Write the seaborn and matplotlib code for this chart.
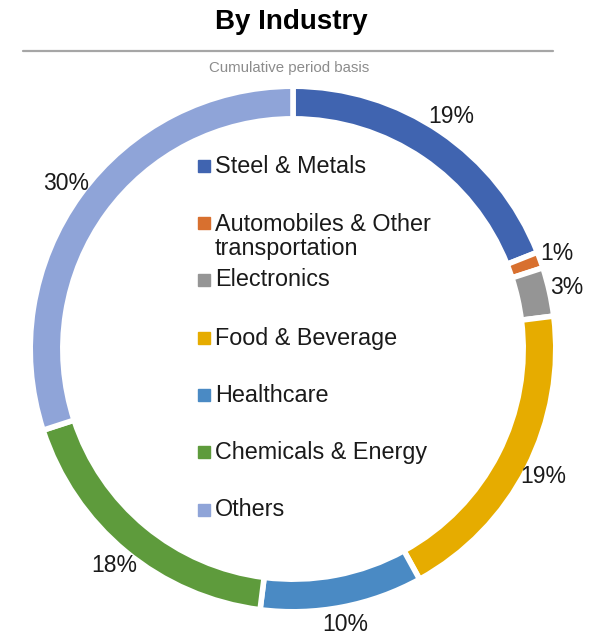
import matplotlib
matplotlib.use("Agg")
import matplotlib.pyplot as plt
from matplotlib.lines import Line2D
import seaborn as sns

# Industry breakdown (share of total, %)
industries = [
    "Steel & Metals",
    "Automobiles & Other\ntransportation",
    "Electronics",
    "Food & Beverage",
    "Healthcare",
    "Chemicals & Energy",
    "Others",
]
shares = [19, 1, 3, 19, 10, 18, 30]
colors = ["#4064B0", "#D8702F", "#959595", "#E6AC00", "#4A8AC4", "#5E9B3C", "#8FA4D8"]

title = "By Industry"
subtitle = "Cumulative period basis"

sns.set_theme(style="white")
plt.rcParams["font.family"] = ["Liberation Sans", "DejaVu Sans"]

W, H = 593, 636
fig = plt.figure(figsize=(W / 100, H / 100), dpi=100)

# donut axes: centre (293, 349) px, outer radius 260 px
cx, cy, R = 293, 349, 260
ax = fig.add_axes([(cx - R) / W, (H - cy - R) / H, 2 * R / W, 2 * R / H])

palette = sns.color_palette(colors)
edge_lw = 4.0
pad = edge_lw * 100 / 72 / 2 / R  # half stroke width in data units
wedges, texts, autotexts = ax.pie(
    shares,
    colors=palette,
    startangle=90,
    counterclock=False,
    radius=1 + pad,
    autopct="%1.0f%%",
    pctdistance=1.08 / (1 + pad),
    wedgeprops=dict(width=0.104 + 2 * pad, edgecolor="white", linewidth=edge_lw),
    textprops=dict(fontsize=16.5, color="#1a1a1a"),
)
ax.set_xlim(-1, 1)
ax.set_ylim(-1, 1)
ax.set_aspect("equal")
ax.axis("off")

# title, rule and subtitle
fig.text(291 / W, 1 - 22 / H, title, ha="center", va="center",
         fontsize=20, fontweight="bold", color="black")
fig.add_artist(Line2D([23 / W, 553 / W], [1 - 51 / H, 1 - 51 / H],
                      transform=fig.transFigure, color="#A6A6A6", lw=1.6))
fig.text(289 / W, 1 - 68 / H, subtitle, ha="center", va="center",
         fontsize=10.8, color="#8C8C8C")

# legend inside the ring
legend_y = [166, 223, 280, 338, 395, 452, 510]
for name, col, y in zip(industries, palette, legend_y):
    fig.add_artist(Line2D([204 / W], [1 - y / H], transform=fig.transFigure,
                          marker="s", markersize=8.5, color=col, linestyle="none"))
    if "\n" in name:
        fig.text(215 / W, 1 - (y - 10) / H, name, ha="left", va="top",
                 fontsize=16.8, color="#1a1a1a", linespacing=1.08)
    else:
        fig.text(215 / W, 1 - y / H, name, ha="left", va="center",
                 fontsize=16.8, color="#1a1a1a")

fig.savefig("out.png", dpi=100)
